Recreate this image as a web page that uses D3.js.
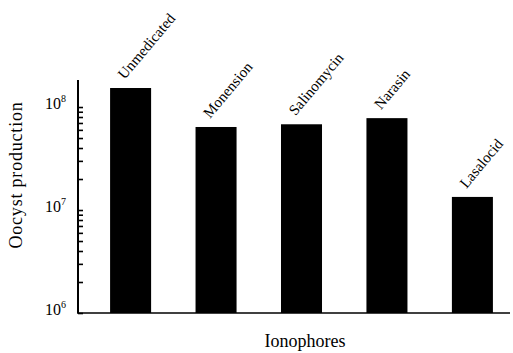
<!DOCTYPE html>
<html>
<head>
<meta charset="utf-8">
<script src="https://cdn.jsdelivr.net/npm/d3@7"></script>
<style>
  body { margin: 0; background: #fff; }
  text { font-family: "Liberation Serif", "DejaVu Serif", serif; fill: #000; }
</style>
</head>
<body>
<div id="chart"></div>
<script>
// ionophore groups and oocyst counts
var ionophores = ["Unmedicated", "Monension", "Salinomycin", "Narasin", "Lasalocid"];
var oocysts = [1.53e8, 6.4e7, 6.8e7, 7.8e7, 1.34e7];
var majorTicks = [1e6, 1e7, 1e8];
var tickExponents = ["6", "7", "8"];

var width = 513, height = 353;

var svg = d3.select('#chart').append('svg')
    .attr('width', width)
    .attr('height', height);

var x = d3.scaleBand()
    .domain(ionophores)
    .range([93, 510])
    .paddingInner(0.52)
    .paddingOuter(0.2);

var y = d3.scaleLog()
    .domain([1e6, 1.83e8])
    .range([313, 80]);

// minor ticks (1..9 per decade)
var minor = [];
majorTicks.forEach(function(d) {
    for (var k = 1; k < 10; k++) {
        if (d * k <= 1.83e8) minor.push(d * k);
    }
});

// bars
svg.append('g').selectAll('rect')
    .data(oocysts)
    .enter().append('rect')
    .attr('x', (d, i) => x(ionophores[i]))
    .attr('y', d => y(d))
    .attr('width', x.bandwidth())
    .attr('height', d => y(1e6) - y(d))
    .attr('fill', '#000');

// y axis with inward ticks
var yAxis = d3.axisRight(y)
    .tickValues(minor)
    .tickSize(5)
    .tickFormat('');

var ga = svg.append('g')
    .attr('transform', 'translate(78,0)')
    .call(yAxis);
ga.select('.domain').remove();
ga.selectAll('line').attr('stroke', '#000').attr('stroke-width', 1.6);

svg.append('line')
    .attr('x1', 78).attr('x2', 78)
    .attr('y1', 80).attr('y2', 313)
    .attr('stroke', '#000').attr('stroke-width', 2);

svg.append('line')
    .attr('x1', 77).attr('x2', 510)
    .attr('y1', 313).attr('y2', 313)
    .attr('stroke', '#000').attr('stroke-width', 1.6);

// decade labels
var lab = svg.append('g').selectAll('text')
    .data(majorTicks)
    .enter().append('text')
    .attr('x', 45)
    .attr('y', d => y(d) + 2)
    .style('font-size', '16px');
lab.append('tspan').text('10');
lab.append('tspan')
    .attr('dy', -7)
    .style('font-size', '10px')
    .text((d, i) => tickExponents[i]);

// slanted category labels above bars
svg.append('g').selectAll('text')
    .data(ionophores)
    .enter().append('text')
    .attr('transform', (d, i) => {
        var cx = x(d) + x.bandwidth() / 2 - 6;
        var cy = y(oocysts[i]) - 8;
        return 'translate(' + cx + ',' + cy + ') rotate(-50)';
    })
    .style('font-size', '15px')
    .text(d => d);

// axis titles
svg.append('text')
    .attr('transform', 'translate(22,175) rotate(-90)')
    .attr('text-anchor', 'middle')
    .style('font-size', '18px')
    .style('letter-spacing', '0.8px')
    .text('Oocyst production');

svg.append('text')
    .attr('x', 305)
    .attr('y', 347)
    .attr('text-anchor', 'middle')
    .style('font-size', '18px')
    .text('Ionophores');
</script>
</body>
</html>
